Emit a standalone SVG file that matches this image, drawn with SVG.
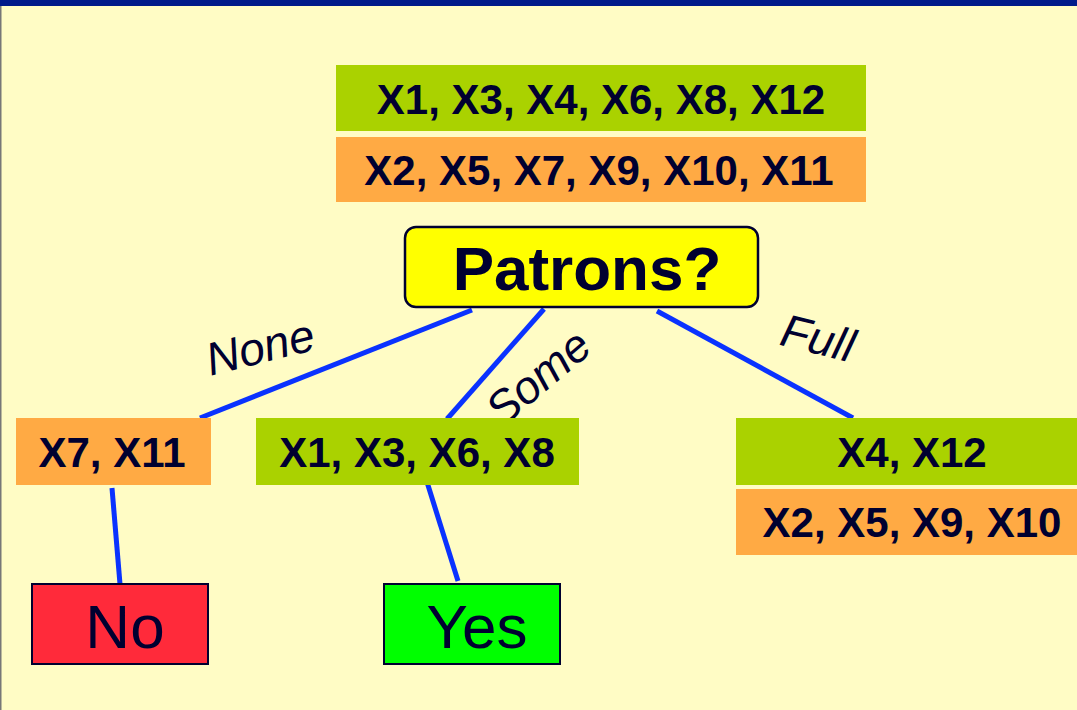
<svg xmlns="http://www.w3.org/2000/svg" width="1077" height="710" viewBox="0 0 1077 710">
  <style>
    .set { font-family: "Liberation Sans", Arial, sans-serif; font-weight: bold; font-size: 42px; fill: #000030; text-anchor: middle; }
    .leaf { font-family: "Liberation Sans", Arial, sans-serif; font-size: 62px; fill: #000030; text-anchor: middle; }
    .lbl { font-family: "Liberation Sans", Arial, sans-serif; font-style: italic; font-size: 46px; fill: #000030; text-anchor: middle; }
    .pos { fill: #AAD200; }
    .neg { fill: #FFAA44; }
    .edge { stroke: #0A32FF; stroke-width: 5; fill: none; }
  </style>

  <!-- slide background -->
  <rect x="0" y="0" width="1077" height="710" fill="#FFFCC5"/>
  <rect x="0" y="0" width="1077" height="6" fill="#001A8A"/>
  <rect x="0" y="6" width="1.5" height="704" fill="#777777"/>

  <!-- connectors -->
  <g id="connectors">
    <line class="edge" x1="472" y1="310" x2="200" y2="418"/>
    <line class="edge" x1="544" y1="309" x2="447" y2="419"/>
    <line class="edge" x1="657" y1="311" x2="853" y2="418"/>
    <line class="edge" x1="112" y1="488" x2="120" y2="584"/>
    <line class="edge" x1="427" y1="482" x2="458" y2="581"/>
    <text class="lbl" x="260" y="363" transform="rotate(-14 260 347)">None</text>
    <text class="lbl" x="538" y="393" transform="rotate(-40 538 377)">Some</text>
    <text class="lbl" x="818" y="354" transform="rotate(14 818 338)">Full</text>
  </g>

  <!-- root examples -->
  <g id="root-set">
    <rect class="pos" x="336" y="65" width="530" height="66"/>
    <text class="set" x="601" y="114">X1, X3, X4, X6, X8, X12</text>
    <rect class="neg" x="336" y="137" width="530" height="65"/>
    <text class="set" x="599" y="185">X2, X5, X7, X9, X10, X11</text>
  </g>

  <!-- attribute test -->
  <g id="patrons">
    <rect x="405" y="227" width="353" height="80" rx="11" fill="#FFFF00" stroke="#000030" stroke-width="2.5"/>
    <text x="587" y="290" font-family="Liberation Sans, Arial, sans-serif" font-weight="bold" font-size="62" fill="#000030" text-anchor="middle">Patrons?</text>
  </g>

  <!-- branch: None -->
  <g id="none-set">
    <rect class="neg" x="16" y="418" width="195" height="67"/>
    <text class="set" x="112" y="467">X7, X11</text>
  </g>

  <!-- branch: Some -->
  <g id="some-set">
    <rect class="pos" x="256" y="418" width="323" height="67"/>
    <text class="set" x="417" y="467">X1, X3, X6, X8</text>
  </g>

  <!-- branch: Full -->
  <g id="full-set">
    <rect class="pos" x="736" y="418" width="341" height="67"/>
    <text class="set" x="912" y="467">X4, X12</text>
    <rect class="neg" x="736" y="489" width="341" height="66"/>
    <text class="set" x="912" y="537">X2, X5, X9, X10</text>
  </g>

  <!-- leaves -->
  <g id="leaf-no">
    <rect x="32" y="584" width="176" height="80" fill="#FF2A3A" stroke="#000030" stroke-width="2"/>
    <text class="leaf" x="125" y="648">No</text>
  </g>
  <g id="leaf-yes">
    <rect x="384" y="584" width="176" height="80" fill="#00FF00" stroke="#000030" stroke-width="2"/>
    <text class="leaf" x="477" y="648">Yes</text>
  </g>
</svg>
